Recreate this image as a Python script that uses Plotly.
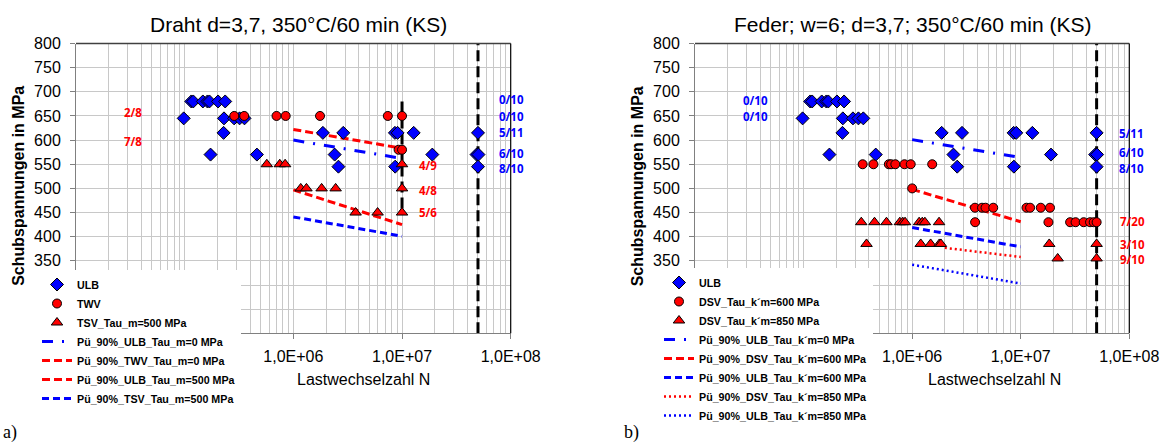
import plotly.graph_objects as go

W, H = 1161, 444

# ---------------- data ----------------
# ULB (same test series shown in both charts)
ULB_N = [1.15e5, 1.2e5, 1.47e5, 1.62e5, 1.69e5, 2.03e5, 2.36e5,
         9.8e4, 2.3e5, 2.85e5, 3.2e5, 3.55e5,
         2.28e5, 1.87e6, 2.88e6, 8.6e6, 9.1e6, 1.28e7, 5.0e7,
         1.73e5, 4.62e5, 2.4e6, 1.9e7, 4.85e7, 5.05e7,
         2.6e6, 8.65e6, 5.0e7]
ULB_S = [680, 680, 680, 680, 680, 680, 680,
         645, 645, 645, 645, 645,
         615, 615, 615, 615, 615, 615, 615,
         570, 570, 570, 570, 570, 570,
         545, 545, 545]

# chart a)
TWV_N = [2.86e5, 3.53e5, 7.0e5, 8.5e5, 1.76e6, 7.4e6, 1.0e7, 9.3e6, 1.0e7]
TWV_S = [650, 650, 650, 650, 650, 650, 650, 580, 580]
TSV_N = [5.7e5, 7.5e5, 8.4e5, 1.0e7, 1.17e6, 1.32e6, 1.82e6, 2.45e6, 1.0e7,
         3.74e6, 5.96e6, 1.0e7]
TSV_S = [550, 550, 550, 550, 500, 500, 500, 500, 500, 450, 450, 450]

LINE_N = [1e6, 1e7]
PU_ULB_m0_S = [600, 562]
PU_TWV_m0_S = [622, 583]
PU_ULB_m500_S = [497, 425]
PU_TSV_m500_S = [441, 401]

RUNOUT_N = [5e7, 5e7]
RUNOUT_S = [200, 800]
A_MARK_N = [1e7, 1e7]
A_MARK_S = [680, 450]

# chart b)
DSV600_N = [3.5e5, 4.4e5, 6.1e5, 6.4e5, 7.0e5, 8.5e5, 9.7e5, 1.53e6,
            1.0e6,
            3.79e6, 4.4e6, 4.74e6, 5.58e6, 1.13e7, 1.22e7, 1.53e7, 1.86e7,
            3.8e6, 1.8e7, 2.85e7, 3.2e7, 3.8e7, 4.35e7, 4.7e7, 5.0e7]
DSV600_S = [550, 550, 550, 550, 550, 550, 550, 550,
            500,
            460, 460, 460, 460, 460, 460, 460, 460,
            430, 430, 430, 430, 430, 430, 430, 430]
DSV850_N = [3.4e5, 4.5e5, 5.8e5, 7.7e5, 8.2e5, 8.6e5, 1.16e6, 1.24e6, 1.31e6, 1.77e6,
            3.8e5, 1.2e6, 1.48e6, 1.78e6, 1.84e6, 1.83e7, 5.0e7,
            2.19e7, 5.0e7]
DSV850_S = [430, 430, 430, 430, 430, 430, 430, 430, 430, 430,
            385, 385, 385, 385, 385, 385, 385,
            355, 355]

PU_ULB_k0_S = [601, 564]
PU_DSV_k600_S = [498, 431]
PU_ULB_k600_S = [419, 379]
PU_DSV_k850_N = [2e6, 1e7]
PU_DSV_k850_S = [377, 358]
PU_ULB_k850_S = [342, 303]

Y_TICKS = [200, 250, 300, 350, 400, 450, 500, 550, 600, 650, 700, 750, 800]
Y_TEXT = ["", "", "", "350", "400", "450", "500", "550", "600", "650", "700", "750", "800"]
X_TICKS = [1e4, 1e5, 1e6, 1e7, 1e8]
X_TEXT = ["", "", "1,0E+06", "1,0E+07", "1,0E+08"]
X_MINOR = [m * 10 ** e for e in (4, 5, 6, 7) for m in range(2, 10)]

A_LABELS = [("2/8", 133, 113, "red"), ("7/8", 133, 141, "red"),
            ("4/9", 428, 165.5, "red"), ("4/8", 428, 190, "red"), ("5/6", 428, 212, "red"),
            ("0/10", 511, 99, "blue"), ("0/10", 511, 116, "blue"), ("5/11", 511, 132.5, "blue"),
            ("6/10", 511, 153.5, "blue"), ("8/10", 511, 168, "blue")]
B_LABELS = [("0/10", 755, 100.5, "blue"), ("0/10", 755, 116, "blue"),
            ("5/11", 1131, 133.3, "blue"), ("6/10", 1131, 153, "blue"), ("8/10", 1131, 168, "blue"),
            ("7/20", 1132, 221, "red"), ("3/10", 1132, 244, "red"), ("9/10", 1132, 259.5, "red")]

BLUE = "#0000FF"
RED = "#FF0000"
GRID = "#c8c8c8"
FONT = "Liberation Sans, Arial, sans-serif"


def px(x):
    return x / W


def py(y):
    return 1 - y / H


fig = go.Figure()


def add_scatter(xa, ya, leg, N, S, name, symbol, color, size, rank):
    fig.add_trace(go.Scatter(
        x=N, y=S, mode="markers", name=name, xaxis=xa, yaxis=ya, legend=leg,
        legendrank=rank,
        marker=dict(symbol=symbol, color=color, size=size, line=dict(color="black", width=1))))


def add_line(xa, ya, leg, N, S, name, color, dash, width, rank):
    fig.add_trace(go.Scatter(
        x=N, y=S, mode="lines", name=name, xaxis=xa, yaxis=ya, legend=leg,
        legendrank=rank, line=dict(color=color, dash=dash, width=width)))


VDASH = "11px,5px"
DASH = "8px,4px"
BDASH = "7px,4px"
DASHDOT = "11px,9px,2px,9px"
DOT = "2px,3px"

# ---- chart a) ----
fig.add_trace(go.Scatter(x=RUNOUT_N, y=RUNOUT_S, mode="lines", showlegend=False,
                         xaxis="x", yaxis="y", line=dict(color="black", width=3, dash=VDASH)))
fig.add_trace(go.Scatter(x=A_MARK_N, y=A_MARK_S, mode="lines", showlegend=False,
                         xaxis="x", yaxis="y", line=dict(color="black", width=3, dash=VDASH)))
add_line("x", "y", "legend", LINE_N, PU_ULB_m0_S, "Pü_90%_ULB_Tau_m=0 MPa", BLUE, DASHDOT, 3, 4)
add_line("x", "y", "legend", LINE_N, PU_TWV_m0_S, "Pü_90%_TWV_Tau_m=0 MPa", RED, DASH, 3, 5)
add_line("x", "y", "legend", LINE_N, PU_ULB_m500_S, "Pü_90%_ULB_Tau_m=500 MPa", RED, DASH, 3, 6)
add_line("x", "y", "legend", LINE_N, PU_TSV_m500_S, "Pü_90%_TSV_Tau_m=500 MPa", BLUE, BDASH, 3, 7)
add_scatter("x", "y", "legend", ULB_N, ULB_S, "ULB", "diamond", BLUE, 10, 1)
add_scatter("x", "y", "legend", TWV_N, TWV_S, "TWV", "circle", RED, 9, 2)
add_scatter("x", "y", "legend", TSV_N, TSV_S, "TSV_Tau_m=500 MPa", "triangle-up", RED, 10, 3)

# ---- chart b) ----
fig.add_trace(go.Scatter(x=RUNOUT_N, y=RUNOUT_S, mode="lines", showlegend=False,
                         xaxis="x2", yaxis="y2", line=dict(color="black", width=3, dash=VDASH)))
add_line("x2", "y2", "legend2", LINE_N, PU_ULB_k0_S, "Pü_90%_ULB_Tau_k´m=0 MPa", BLUE, DASHDOT, 3, 4)
add_line("x2", "y2", "legend2", LINE_N, PU_DSV_k600_S, "Pü_90%_DSV_Tau_k´m=600 MPa", RED, DASH, 3, 5)
add_line("x2", "y2", "legend2", LINE_N, PU_ULB_k600_S, "Pü_90%_ULB_Tau_k´m=600 MPa", BLUE, BDASH, 3, 6)
add_line("x2", "y2", "legend2", PU_DSV_k850_N, PU_DSV_k850_S, "Pü_90%_DSV_Tau_k´m=850 MPa", RED, DOT, 2.5, 7)
add_line("x2", "y2", "legend2", LINE_N, PU_ULB_k850_S, "Pü_90%_ULB_Tau_k´m=850 MPa", BLUE, DOT, 2.5, 8)
add_scatter("x2", "y2", "legend2", ULB_N, ULB_S, "ULB", "diamond", BLUE, 10, 1)
add_scatter("x2", "y2", "legend2", DSV600_N, DSV600_S, "DSV_Tau_k´m=600 MPa", "circle", RED, 9, 2)
add_scatter("x2", "y2", "legend2", DSV850_N, DSV850_S, "DSV_Tau_k´m=850 MPa", "triangle-up", RED, 10, 3)

tickfont = dict(family=FONT, size=16, color="black")


def xaxis_cfg(domain, anchor):
    return dict(type="log", range=[4, 8], domain=domain, anchor=anchor, automargin=False,
                tickmode="array", tickvals=X_TICKS, ticktext=X_TEXT,
                ticks="outside", ticklen=5, tickcolor="#808080", ticklabelstandoff=3,
                showline=True, linecolor="#808080", linewidth=1,
                showgrid=True, gridcolor=GRID, gridwidth=1, zeroline=False,
                tickfont=tickfont,
                minor=dict(tickmode="array", tickvals=X_MINOR, showgrid=True,
                           gridcolor=GRID, gridwidth=1, ticks=""))


def yaxis_cfg(domain, anchor):
    return dict(range=[200, 800], domain=domain, anchor=anchor, automargin=False,
                tickmode="array", tickvals=Y_TICKS, ticktext=Y_TEXT,
                ticks="outside", ticklen=5, tickcolor="#808080", ticklabelstandoff=6,
                showline=True, linecolor="#808080", linewidth=1,
                showgrid=True, gridcolor=GRID, gridwidth=1, zeroline=False,
                tickfont=tickfont)


YDOM = [py(333.3), py(43.5)]
legfont = dict(family=FONT, size=10.7, color="black", weight="bold")

annotations = []
for txt, x, y, col in A_LABELS + B_LABELS:
    annotations.append(dict(text=txt, x=px(x), y=py(y), xref="paper", yref="paper",
                            showarrow=False, xanchor="center", yanchor="middle",
                            font=dict(family="Open Sans, sans-serif", size=11.5,
                                      color=BLUE if col == "blue" else RED, weight="bold")))
for txt, x in [("Draht d=3,7, 350°C/60 min (KS)", 298.8),
               ("Feder; w=6; d=3,7; 350°C/60 min (KS)", 912.5)]:
    annotations.append(dict(text=txt, x=px(x), y=py(24), xref="paper", yref="paper",
                            showarrow=False, xanchor="center", yanchor="middle",
                            font=dict(family=FONT, size=21, color="black")))
for x in (18.8, 638.3):
    annotations.append(dict(text="Schubspannungen in MPa", x=px(x), y=py(186), xref="paper",
                            yref="paper", showarrow=False, textangle=-90,
                            xanchor="center", yanchor="middle",
                            font=dict(family=FONT, size=16, color="black", weight="bold")))
for x in (363, 994):
    annotations.append(dict(text="Lastwechselzahl N", x=px(x), y=py(379.5), xref="paper",
                            yref="paper", showarrow=False, xanchor="center", yanchor="middle",
                            font=dict(family=FONT, size=16, color="black")))
for txt, x in (("a)", 10), ("b)", 631)):
    annotations.append(dict(text=txt, x=px(x), y=py(432), xref="paper", yref="paper",
                            showarrow=False, xanchor="center", yanchor="middle",
                            font=dict(family="Liberation Serif, Times New Roman, serif",
                                      size=18, color="black")))

shapes = []
for xr, yr in (("x domain", "y domain"), ("x2 domain", "y2 domain")):
    shapes.append(dict(type="line", xref=xr, yref=yr, x0=0, x1=1, y0=1, y1=1,
                       line=dict(color="#404040", width=1.5), layer="above"))
    shapes.append(dict(type="line", xref=xr, yref=yr, x0=1, x1=1, y0=0, y1=1,
                       line=dict(color="black", width=1.2), layer="above"))

fig.update_layout(
    template="none",
    width=W, height=H, margin=dict(l=0, r=0, t=0, b=0, autoexpand=False),
    paper_bgcolor="white", plot_bgcolor="white",
    xaxis=xaxis_cfg([px(76), px(510.7)], "y"),
    yaxis=yaxis_cfg(YDOM, "x"),
    xaxis2=xaxis_cfg([px(695), px(1129.3)], "y2"),
    yaxis2=yaxis_cfg(YDOM, "x2"),
    legend=dict(x=px(37), y=py(270), xanchor="left", yanchor="top",
                bgcolor="white", borderwidth=0, font=legfont, tracegroupgap=0),
    legend2=dict(x=px(659), y=py(268), xanchor="left", yanchor="top",
                 bgcolor="white", borderwidth=0, font=legfont, tracegroupgap=0),
    annotations=annotations, shapes=shapes, showlegend=True,
)

fig.write_html("out.html")
